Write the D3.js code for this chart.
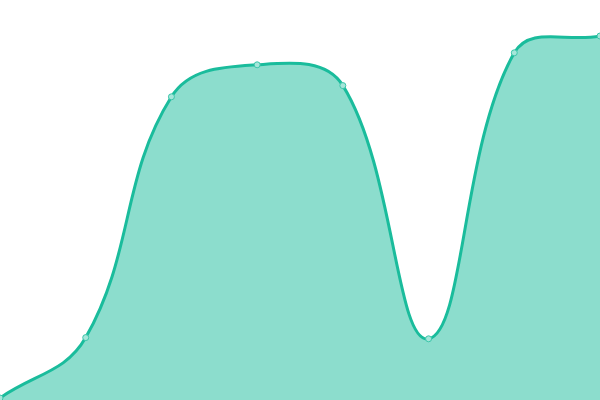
<!DOCTYPE html>
<html><head><meta charset="utf-8">
<script src="https://cdn.jsdelivr.net/npm/d3@7"></script>
<style>html,body{margin:0;padding:0;background:#fff;}svg{display:block;}</style>
</head><body>
<svg id="c" width="600" height="400"></svg>
<script>
const categories = ["1","2","3","4","5","6","7","8"];
const values = [0.5, 15.6, 75.8, 83.8, 78.6, 15.3, 86.8, 91.0];

const W = 600, H = 400;
const svg = d3.select("#c");
const x = d3.scalePoint().domain(categories).range([0, W]);
const y = d3.scaleLinear().domain([0, 100]).range([H, 0]);
const data = categories.map((c, i) => ({c, v: values[i]}));

// Spline curve with distance-weighted tangents (tension 0.4), control points capped to the area
function SplineCurve(context) { this._context = context; }
SplineCurve.prototype = {
  areaStart() { this._line = 0; },
  areaEnd() { this._line = NaN; },
  lineStart() { this._pts = []; },
  point(px, py) { this._pts.push([+px, +py]); },
  lineEnd() {
    const p = this._pts, n = p.length, t = 0.4, ctx = this._context;
    if (n) {
      const cIn = [], cOut = [];
      for (let i = 0; i < n; i++) {
        const prev = p[i - 1] || p[i], cur = p[i], next = p[i + 1] || p[i];
        const d01 = Math.hypot(cur[0] - prev[0], cur[1] - prev[1]);
        const d12 = Math.hypot(next[0] - cur[0], next[1] - cur[1]);
        let s01 = d01 / (d01 + d12), s12 = d12 / (d01 + d12);
        if (!isFinite(s01)) s01 = 0; if (!isFinite(s12)) s12 = 0;
        const fa = t * s01, fb = t * s12;
        const cl = (a) => [Math.max(0, Math.min(W, a[0])), Math.max(0, Math.min(H, a[1]))];
        cIn.push(cl([cur[0] - fa * (next[0] - prev[0]), cur[1] - fa * (next[1] - prev[1])]));
        cOut.push(cl([cur[0] + fb * (next[0] - prev[0]), cur[1] + fb * (next[1] - prev[1])]));
      }
      if (this._line) ctx.lineTo(p[0][0], p[0][1]); else ctx.moveTo(p[0][0], p[0][1]);
      for (let i = 0; i < n - 1; i++) {
        ctx.bezierCurveTo(cOut[i][0], cOut[i][1], cIn[i + 1][0], cIn[i + 1][1], p[i + 1][0], p[i + 1][1]);
      }
    }
    if (this._line || (this._line !== 0 && n === 1)) ctx.closePath();
    this._line = 1 - this._line;
  }
};
const curve = (ctx) => new SplineCurve(ctx);

svg.append("path").datum(data)
  .attr("d", d3.area().x(d => x(d.c)).y0(H).y1(d => y(d.v)).curve(curve))
  .attr("fill", "#1abc9c").attr("fill-opacity", 0.5);
svg.append("path").datum(data)
  .attr("d", d3.line().x(d => x(d.c)).y(d => y(d.v)).curve(curve))
  .attr("fill", "none").attr("stroke", "#1abc9c").attr("stroke-width", 3);
svg.selectAll("circle").data(data).join("circle")
  .attr("cx", d => x(d.c)).attr("cy", d => y(d.v)).attr("r", 3)
  .attr("fill", "#a6e6da").attr("stroke", "#3cc6aa").attr("stroke-width", 1);
</script>
</body></html>
